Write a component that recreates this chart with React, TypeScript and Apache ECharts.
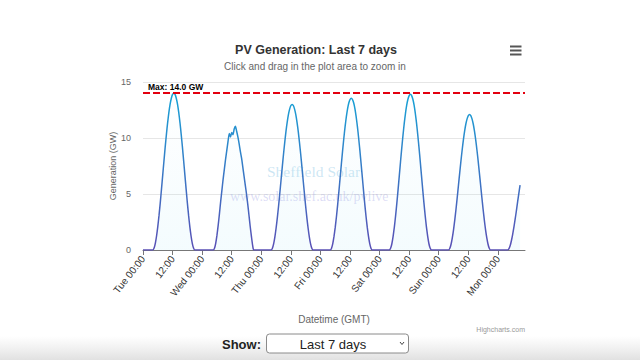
import React, { useEffect, useRef } from 'react';
import * as echarts from 'echarts';

// ---- data (GW, half-hourly readings starting 04:00 each day) ----
const DAYS = ['Tue', 'Wed', 'Thu', 'Fri', 'Sat', 'Sun', 'Mon'];
const FIRST_HOUR = 4;
const STEP_HOURS = 0.5;
const TUE = [0, 0.17, 0.59, 1.25, 2.09, 3.09, 4.21, 5.43, 6.69, 7.95, 9.18, 10.33, 11.38, 12.28, 13.02, 13.55, 13.89, 14.0, 13.89, 13.55, 13.02, 12.28, 11.38, 10.33, 9.18, 7.95, 6.69, 5.43, 4.21, 3.09, 2.09, 1.25, 0.59, 0.17, 0];
const WED = [0, 0, 0.15, 0.6, 1.3, 2.2, 3.2, 4.3, 5.3, 6.3, 7.2, 8.1, 8.9, 9.7, 10.4, 10.1, 10.5, 10.3, 10.8, 11.05, 10.6, 10.1, 9.5, 8.8, 8.2, 7.4, 6.6, 5.8, 5.0, 4.1, 3.1, 2.1, 1.2, 0.4, 0];
const THU = [0, 0.16, 0.55, 1.16, 1.94, 2.87, 3.91, 5.04, 6.21, 7.38, 8.53, 9.59, 10.57, 11.4, 12.09, 12.58, 12.9, 13.0, 12.9, 12.58, 12.09, 11.4, 10.57, 9.59, 8.53, 7.38, 6.21, 5.04, 3.91, 2.87, 1.94, 1.16, 0.55, 0.16, 0];
const FRI = [0, 0.16, 0.57, 1.21, 2.02, 2.99, 4.08, 5.26, 6.48, 7.7, 8.89, 10.0, 11.02, 11.88, 12.6, 13.12, 13.44, 13.55, 13.44, 13.12, 12.6, 11.88, 11.02, 10.0, 8.89, 7.7, 6.48, 5.26, 4.08, 2.99, 2.02, 1.21, 0.57, 0.16, 0];
const SAT = [0, 0.17, 0.58, 1.24, 2.07, 3.07, 4.18, 5.39, 6.64, 7.9, 9.12, 10.26, 11.3, 12.19, 12.93, 13.46, 13.79, 13.9, 13.79, 13.46, 12.93, 12.19, 11.3, 10.26, 9.12, 7.9, 6.64, 5.39, 4.18, 3.07, 2.07, 1.24, 0.58, 0.17, 0];
const SUN = [0, 0.15, 0.51, 1.08, 1.8, 2.67, 3.64, 4.69, 5.78, 6.87, 7.94, 8.93, 9.84, 10.61, 11.25, 11.71, 12.0, 12.1, 12.0, 11.71, 11.25, 10.61, 9.84, 8.93, 7.94, 6.87, 5.78, 4.69, 3.64, 2.67, 1.8, 1.08, 0.51, 0.15, 0];
const MON = [0, 0.12, 0.4, 0.85, 1.4, 2.05, 2.75, 3.5, 4.3, 5.05, 5.8];
const DAILY = [TUE, WED, THU, FRI, SAT, SUN, MON];
const MAX_GW = 14.0;
const X_MAX_HOURS = 155;
const TICK_HOURS = [0, 12, 24, 36, 48, 60, 72, 84, 96, 108, 120, 132, 144];
const Y_MIN = 0;
const Y_MAX = 15;
const Y_STEP = 5;

function buildPoints(): [number, number][] {
  const pts: [number, number][] = [[0, 0]];
  DAILY.forEach((vals, d) => {
    vals.forEach((v, i) => pts.push([d * 24 + FIRST_HOUR + i * STEP_HOURS, v]));
  });
  return pts;
}

const FONT = '"Liberation Sans", Arial, Helvetica, sans-serif';

export default function App() {
  const ref = useRef<HTMLDivElement>(null);
  useEffect(() => {
    document.body.style.margin = '0';
    if (!ref.current) return;
    const chart = echarts.init(ref.current, null, { renderer: 'svg' });
    const option: any = {
      animation: false,
      backgroundColor: '#ffffff',
      textStyle: { fontFamily: FONT },
      grid: { left: 143, right: 115, top: 82, bottom: 110, containLabel: false },
      xAxis: {
        type: 'value',
        min: 0,
        max: X_MAX_HOURS,
        interval: 12,
        name: 'Datetime (GMT)',
        nameLocation: 'middle',
        nameGap: 64,
        nameMoveOverlap: false,
        nameTextStyle: { color: '#666', fontSize: 10, fontFamily: FONT },
        axisLine: { show: true, lineStyle: { color: '#777', width: 1 } },
        axisTick: { show: true, length: 5, lineStyle: { color: '#777' }, customValues: TICK_HOURS },
        splitLine: { show: false },
        axisLabel: {
          customValues: TICK_HOURS,
          rotate: 52,
          margin: 7,
          color: '#333',
          fontSize: 10,
          fontFamily: FONT,
          formatter: (v: number) => (v % 24 === 0 ? `${DAYS[Math.round(v / 24)]} 00:00` : '12:00'),
        },
      },
      yAxis: {
        type: 'value',
        min: Y_MIN,
        max: Y_MAX,
        interval: Y_STEP,
        name: 'Generation (GW)',
        nameLocation: 'middle',
        nameGap: 26,
        nameMoveOverlap: false,
        nameTextStyle: { color: '#666', fontSize: 9, fontFamily: FONT },
        axisLine: { show: false },
        axisTick: { show: false },
        axisLabel: { color: '#666', fontSize: 9, margin: 12, fontFamily: FONT },
        splitLine: { show: true, lineStyle: { color: '#e6e6e6', width: 1 } },
      },
      series: [
        {
          type: 'line',
          data: buildPoints(),
          showSymbol: false,
          smooth: 0.2,
          z: 3,
          lineStyle: {
            width: 1.5,
            color: new echarts.graphic.LinearGradient(0, 0, 0, 1, [
              { offset: 0, color: '#16a3d6' },
              { offset: 1, color: '#5a4fb5' },
            ]),
          },
          areaStyle: {
            color: new echarts.graphic.LinearGradient(0, 0, 0, 1, [
              { offset: 0, color: 'rgba(120,215,240,0)' },
              { offset: 1, color: 'rgba(120,215,240,0.12)' },
            ]),
          },
          markLine: {
            silent: true,
            symbol: ['none', 'none'],
            lineStyle: { color: '#e3000f', width: 2, type: [7, 3] },
            label: {
              show: true,
              position: 'insideStartTop',
              formatter: `Max: ${MAX_GW.toFixed(1)} GW`,
              color: '#000',
              fontSize: 8.5,
              fontWeight: 'bold',
              fontFamily: FONT,
              distance: [5, 2],
            },
            data: [{ yAxis: MAX_GW }],
          },
        },
      ],
      graphic: [
        {
          type: 'rect',
          z: -10,
          shape: { x: 0, y: 336, width: 640, height: 24 },
          style: {
            fill: new echarts.graphic.LinearGradient(0, 0, 0, 1, [
              { offset: 0, color: 'rgba(230,230,230,0)' },
              { offset: 1, color: 'rgba(225,225,225,1)' },
            ]),
          },
        },
        {
          type: 'text',
          z: 1,
          left: 267,
          top: 163,
          style: { text: 'Sheffield Solar', font: '15.5px "Liberation Serif", "DejaVu Serif", serif', fill: 'rgba(120,190,225,0.38)' },
        },
        {
          type: 'text',
          z: 1,
          left: 230,
          top: 189,
          style: { text: 'www.solar.shef.ac.uk/pvlive', font: '14px "Liberation Serif", "DejaVu Serif", serif', fill: 'rgba(130,130,220,0.28)' },
        },
        {
          type: 'text',
          x: 316,
          y: 50,
          style: { text: 'PV Generation: Last 7 days', font: `bold 12.5px ${FONT}`, fill: '#333', align: 'center', verticalAlign: 'middle' },
        },
        {
          type: 'text',
          x: 315,
          y: 66,
          style: { text: 'Click and drag in the plot area to zoom in', font: `10px ${FONT}`, fill: '#666', align: 'center', verticalAlign: 'middle' },
        },
        { type: 'rect', shape: { x: 510, y: 45.5, width: 11.5, height: 2 }, style: { fill: '#555' } },
        { type: 'rect', shape: { x: 510, y: 49.5, width: 11.5, height: 2 }, style: { fill: '#555' } },
        { type: 'rect', shape: { x: 510, y: 53.5, width: 11.5, height: 2 }, style: { fill: '#555' } },
        {
          type: 'text',
          x: 525,
          y: 329,
          style: { text: 'Highcharts.com', font: `7px ${FONT}`, fill: '#999', align: 'right', verticalAlign: 'middle' },
        },
        {
          type: 'text',
          x: 222,
          y: 344,
          style: { text: 'Show:', font: `bold 13px ${FONT}`, fill: '#222', align: 'left', verticalAlign: 'middle' },
        },
        {
          type: 'rect',
          shape: { x: 266.5, y: 334, width: 142, height: 19, r: 3 },
          style: { fill: '#fff', stroke: '#8a8a8a', lineWidth: 1 },
        },
        {
          type: 'text',
          x: 333,
          y: 344,
          style: { text: 'Last 7 days', font: `13px ${FONT}`, fill: '#222', align: 'center', verticalAlign: 'middle' },
        },
        {
          type: 'polyline',
          shape: { points: [[400, 342], [402, 344.5], [404, 342]] },
          style: { stroke: '#444', lineWidth: 1, fill: 'none' },
        },
      ],
    };
    chart.setOption(option);
    return () => chart.dispose();
  }, []);
  return <div ref={ref} style={{ position: 'fixed', left: 0, top: 0, width: 640, height: 360 }} />;
}
